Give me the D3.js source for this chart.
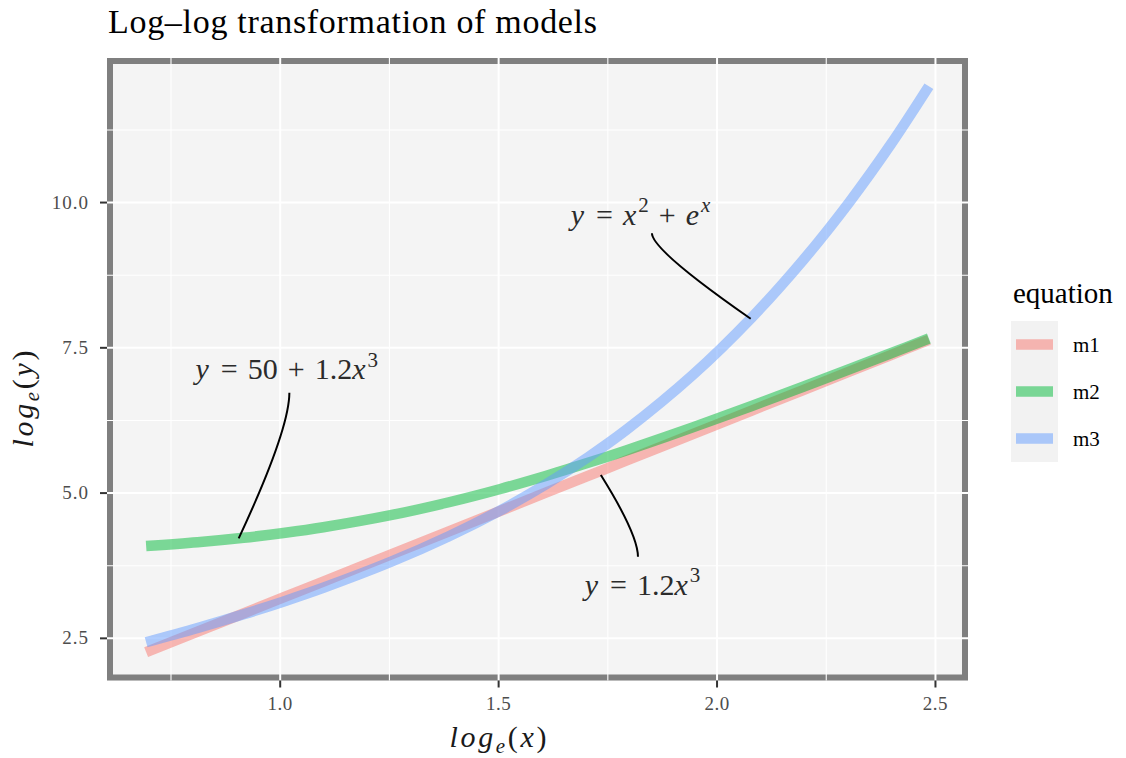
<!DOCTYPE html>
<html>
<head>
<meta charset="utf-8">
<script src="https://cdn.jsdelivr.net/npm/d3@7"></script>
<style>
  html, body { margin: 0; padding: 0; background: #ffffff; }
  svg { display: block; }
  text { font-family: "Liberation Serif", "DejaVu Serif", serif; }
</style>
</head>
<body>
<svg id="chart" width="1126" height="758"></svg>
<script>
// log(x) sample points for x = 2 ... 12
const logX = [0.6931, 0.8109, 0.9163, 1.0116, 1.0986, 1.2528, 1.3863, 1.5041, 1.6094,
              1.7047, 1.7918, 1.9459, 2.0794, 2.1972, 2.3026, 2.3979, 2.4849];
// log(y) for each model
const m1 = [2.2617, 2.6151, 2.9312, 3.2172, 3.4781, 3.9406, 4.3412, 4.6945, 5.0106,
            5.2965, 5.5576, 6.0200, 6.4206, 6.7740, 7.0901, 7.3760, 7.6370];
const m2 = [4.0877, 4.1536, 4.2305, 4.3169, 4.4116, 4.6196, 4.8426, 5.0711, 5.2983,
            5.5201, 5.7339, 6.1347, 6.4988, 6.8296, 7.1309, 7.4068, 7.6608];
const m3 = [2.4327, 2.6776, 2.9140, 3.1444, 3.3702, 3.8147, 4.2570, 4.7029, 5.1557,
            5.6166, 6.0855, 7.0437, 8.0212, 9.0099, 10.0045, 11.0020, 12.0009];

const seriesNames = ["m1", "m2", "m3"];
const seriesValues = [m1, m2, m3];
const seriesColors = ["#F8766D", "#00BA38", "#619CFF"];

const xTicks = [1.0, 1.5, 2.0, 2.5];
const xMinor = [0.75, 1.25, 1.75, 2.25];
const yTicks = [2.5, 5.0, 7.5, 10.0];
const yMinor = [3.75, 6.25, 8.75, 11.25];

// equation labels (data coordinates of the label baseline centre)
const labelX = [1.015, 1.825, 1.8295];
const labelY = [6.958, 9.622, 3.245];
// connector curves: start, control point, end (data coordinates)
const connStart = [[1.021, 6.727], [1.851, 9.47], [1.734, 5.31]];
const connCtrl  = [[1.0206, 6.085], [1.851, 9.183], [1.8185, 4.295]];
const connEnd   = [[0.905, 4.22], [2.077, 8.0], [1.819, 3.904]];

const svg = d3.select("#chart");
const panel = { left: 107, right: 968, top: 58, bottom: 680.5 };

function expand(ext) {
  const pad = (ext[1] - ext[0]) * 0.05;
  return [ext[0] - pad, ext[1] + pad];
}
const xDomain = expand(d3.extent(logX));
const yDomain = expand(d3.extent(seriesValues.flat()));

const x = d3.scaleLinear().domain(xDomain).range([panel.left, panel.right]);
const y = d3.scaleLinear().domain(yDomain).range([panel.bottom, panel.top]);

// panel background and thick grey frame
const bw = 6;
svg.append("rect")
  .attr("x", panel.left).attr("y", panel.top)
  .attr("width", panel.right - panel.left).attr("height", panel.bottom - panel.top)
  .attr("fill", "#f4f4f4");
svg.append("rect")
  .attr("x", panel.left + bw / 2).attr("y", panel.top + bw / 2)
  .attr("width", panel.right - panel.left - bw).attr("height", panel.bottom - panel.top - bw)
  .attr("fill", "none").attr("stroke", "#7f7f7f").attr("stroke-width", bw);

// grid lines
const grid = svg.append("g");
grid.selectAll("line.xminor").data(xMinor).join("line")
  .attr("x1", d => x(d)).attr("x2", d => x(d))
  .attr("y1", panel.top).attr("y2", panel.bottom)
  .attr("stroke", "#ffffff").attr("stroke-width", 1.1);
grid.selectAll("line.yminor").data(yMinor).join("line")
  .attr("y1", d => y(d)).attr("y2", d => y(d))
  .attr("x1", panel.left).attr("x2", panel.right)
  .attr("stroke", "#ffffff").attr("stroke-width", 1.1);
grid.selectAll("line.xmajor").data(xTicks).join("line")
  .attr("x1", d => x(d)).attr("x2", d => x(d))
  .attr("y1", panel.top).attr("y2", panel.bottom)
  .attr("stroke", "#ffffff").attr("stroke-width", 2);
grid.selectAll("line.ymajor").data(yTicks).join("line")
  .attr("y1", d => y(d)).attr("y2", d => y(d))
  .attr("x1", panel.left).attr("x2", panel.right)
  .attr("stroke", "#ffffff").attr("stroke-width", 2);

// model curves
svg.append("clipPath").attr("id", "panelClip").append("rect")
  .attr("x", panel.left).attr("y", panel.top)
  .attr("width", panel.right - panel.left).attr("height", panel.bottom - panel.top);

const line = d3.line()
  .x((d, i) => x(logX[i]))
  .y(d => y(d))
  .curve(d3.curveCatmullRom);

svg.append("g").attr("clip-path", "url(#panelClip)")
  .selectAll("path").data(seriesValues).join("path")
  .attr("d", d => line(d))
  .attr("fill", "none")
  .attr("stroke", (d, i) => seriesColors[i])
  .attr("stroke-opacity", 0.5)
  .attr("stroke-width", 10.5)
  .attr("stroke-linecap", "butt")
  .attr("stroke-linejoin", "round");

// connector curves
svg.append("g").selectAll("path").data(connStart).join("path")
  .attr("d", (d, i) => {
    const p = d3.path();
    p.moveTo(x(d[0]), y(d[1]));
    p.quadraticCurveTo(x(connCtrl[i][0]), y(connCtrl[i][1]), x(connEnd[i][0]), y(connEnd[i][1]));
    return p.toString();
  })
  .attr("fill", "none").attr("stroke", "#000000").attr("stroke-width", 2);

// equation labels: [text, style] pieces; "i" italic, "n" upright, "sup"/"isup" raised
const sp = "\u2004";
const labelParts = [
  [["y", "i"], [sp + "=" + sp + "50" + sp + "+" + sp + "1.2", "n"], ["x", "i"], ["3", "sup"]],
  [["y", "i"], [sp + "=" + sp, "n"], ["x", "i"], ["2", "sup"], [sp + "+" + sp, "n"], ["e", "i"], ["x", "isup"]],
  [["y", "i"], [sp + "=" + sp + "1.2", "n"], ["x", "i"], ["3", "sup"]]
];
labelParts.forEach((parts, k) => {
  const t = svg.append("text")
    .attr("x", x(labelX[k])).attr("y", y(labelY[k]))
    .attr("text-anchor", "middle")
    .attr("font-size", 30)
    .attr("fill", "#2b2b2b");
  let raised = false;
  parts.forEach(([s, kind]) => {
    const ts = t.append("tspan").text(s);
    if (kind === "sup" || kind === "isup") {
      ts.attr("font-size", "70%").attr("dy", "-0.6em");
      if (kind === "isup") ts.attr("font-style", "italic");
      raised = true;
    } else {
      if (kind === "i") ts.attr("font-style", "italic").attr("letter-spacing", 2);
      if (raised) { ts.attr("dy", "0.42em"); raised = false; }
    }
  });
});

// axis ticks
const tickCol = "#333333";
svg.append("g").selectAll("line").data(yTicks).join("line")
  .attr("x1", panel.left - 7).attr("x2", panel.left)
  .attr("y1", d => y(d)).attr("y2", d => y(d))
  .attr("stroke", tickCol).attr("stroke-width", 2);
svg.append("g").selectAll("line").data(xTicks).join("line")
  .attr("x1", d => x(d)).attr("x2", d => x(d))
  .attr("y1", panel.bottom).attr("y2", panel.bottom + 7)
  .attr("stroke", tickCol).attr("stroke-width", 2);

// tick labels
svg.append("g").selectAll("text").data(yTicks).join("text")
  .attr("x", 89).attr("y", d => y(d) + 6)
  .attr("text-anchor", "end")
  .attr("font-size", 19).attr("fill", "#4d4d4d")
  .attr("letter-spacing", 1)
  .text(d => d3.format(".1f")(d));
svg.append("g").selectAll("text").data(xTicks).join("text")
  .attr("x", d => x(d)).attr("y", 710)
  .attr("text-anchor", "middle")
  .attr("font-size", 19).attr("fill", "#4d4d4d")
  .attr("letter-spacing", 0.5)
  .text(d => d3.format(".1f")(d));

// axis titles: log_e(x), log_e(y)
function axisTitle(g, v) {
  const t = g.append("text")
    .attr("text-anchor", "middle")
    .attr("font-size", 30)
    .attr("fill", "#1a1a1a")
    .attr("textLength", 97)
    .attr("lengthAdjust", "spacing");
  t.append("tspan").attr("font-style", "italic").text("log");
  t.append("tspan").attr("font-style", "italic").attr("font-size", "70%").attr("dy", "0.3em").text("e");
  t.append("tspan").attr("dy", "-0.21em").text("(");
  t.append("tspan").attr("font-style", "italic").text(v);
  t.append("tspan").text(")");
  return t;
}
axisTitle(svg.append("g").attr("transform", "translate(498,747)"), "x");
axisTitle(svg.append("g").attr("transform", "translate(33,399) rotate(-90)"), "y");

// title
svg.append("text")
  .attr("x", 108).attr("y", 33)
  .attr("font-size", 34).attr("fill", "#000000")
  .attr("textLength", 489).attr("lengthAdjust", "spacing")
  .text("Log\u2013log transformation of models");

// legend
const legend = svg.append("g");
legend.append("text")
  .attr("x", 1013).attr("y", 303)
  .attr("font-size", 29).attr("fill", "#000000")
  .text("equation");
legend.append("rect")
  .attr("x", 1011).attr("y", 321).attr("width", 47).attr("height", 141)
  .attr("fill", "#f2f2f2");
const keyY = d3.scaleBand().domain(seriesNames).range([321, 462]);
const rows = legend.selectAll("g.key").data(seriesNames).join("g");
rows.append("line")
  .attr("x1", 1016).attr("x2", 1053)
  .attr("y1", d => keyY(d) + keyY.bandwidth() / 2)
  .attr("y2", d => keyY(d) + keyY.bandwidth() / 2)
  .attr("stroke", (d, i) => seriesColors[i])
  .attr("stroke-opacity", 0.5)
  .attr("stroke-width", 10.5);
rows.append("text")
  .attr("x", 1073)
  .attr("y", d => keyY(d) + keyY.bandwidth() / 2 + 7)
  .attr("font-size", 21).attr("fill", "#000000")
  .text(d => d);
</script>
</body>
</html>
